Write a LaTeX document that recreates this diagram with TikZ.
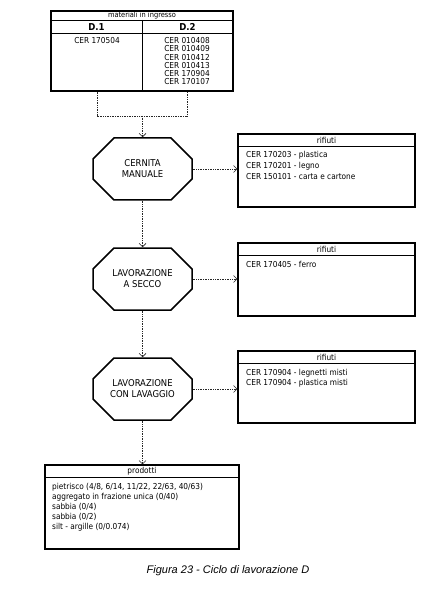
\documentclass[tikz,border=0pt]{standalone}
\usepackage{fontspec}
\setmainfont{DejaVu Sans Condensed}
\newfontfamily\capfont{Liberation Sans}
\usetikzlibrary{arrows.meta,shapes.misc}
\begin{document}
\begin{tikzpicture}[x=1pt,y=-1pt,
  small/.style={font=\fontsize{8.2}{9}\selectfont,inner sep=0pt},
  itemtxt/.style={small,anchor=west},
  box/.style={draw,line width=1.1pt,inner sep=0pt},
  sep/.style={line width=0.5pt},
  octa/.style={draw,line width=1.5pt,chamfered rectangle,chamfered rectangle xsep=12pt,chamfered rectangle ysep=12pt,
    minimum width=99pt,minimum height=62pt,inner sep=0pt,align=center,font=\fontsize{9.4}{11}\selectfont},
  conn/.style={densely dotted,line width=0.7pt,draw=black!85},
  arr/.style={conn,-{Straight Barb[length=3.5pt,width=7pt,line width=0.6pt]}}
]
\useasboundingbox (0,0) rectangle (432,601);

% input table
\node[box,minimum width=182pt,minimum height=80pt] (tab) at (142,51) {};
\draw[sep] (51,20) -- (233,20);
\draw[sep] (51,33) -- (233,33);
\draw[sep] (142,20) -- (142,91);
\node[font=\fontsize{7.4}{8}\selectfont,inner sep=0pt] (tabt) at (142,15.6) {materiali in ingresso};
\node[font=\bfseries\fontsize{9.5}{10}\selectfont,inner sep=0pt] (d1) at (96.5,26.8) {D.1};
\node[font=\bfseries\fontsize{9.5}{10}\selectfont,inner sep=0pt] (d2) at (187.5,26.8) {D.2};
\node[small] (c1) at (97,40.5) {CER 170504};
\node[small] (c21) at (187,40.5) {CER 010408};
\node[small] (c22) at (187,48.8) {CER 010409};
\node[small] (c23) at (187,57.1) {CER 010412};
\node[small] (c24) at (187,65.4) {CER 010413};
\node[small] (c25) at (187,73.7) {CER 170904};
\node[small] (c26) at (187,82) {CER 170107};

% joining connectors
\coordinate (j1) at (97,116);
\coordinate (j2) at (187,116);
\coordinate (jm) at (142.5,116);
\draw[conn] (tab.south -| j1) -- (j1) -- (j2) -- (tab.south -| j2);

% octagons
\node[octa] (o1) at (142.5,169) {CERNITA\\MANUALE};
\node[octa] (o2) at (142.5,279) {LAVORAZIONE\\A SECCO};
\node[octa] (o3) at (142.5,389) {LAVORAZIONE\\CON LAVAGGIO};

\draw[arr] (jm) -- (o1.north);
\draw[arr] (o1.south) -- (o2.north);
\draw[arr] (o2.south) -- (o3.north);

% rifiuti boxes
\node[box,minimum width=177pt,minimum height=73pt] (r1) at (326.5,170.5) {};
\draw[sep] (238,146) -- (415,146);
\node[small] (r1t) at (326.5,140.5) {rifiuti};
\node[itemtxt] (r1a) at (246,155.5) {CER 170203 - plastica};
\node[itemtxt] (r1b) at (246,166) {CER 170201 - legno};
\node[itemtxt] (r1c) at (246,176.5) {CER 150101 - carta e cartone};

\node[box,minimum width=177pt,minimum height=73pt] (r2) at (326.5,279.5) {};
\draw[sep] (238,255) -- (415,255);
\node[small] (r2t) at (326.5,249.5) {rifiuti};
\node[itemtxt] (r2a) at (246,264.5) {CER 170405 - ferro};

\node[box,minimum width=177pt,minimum height=72pt] (r3) at (326.5,387) {};
\draw[sep] (238,363) -- (415,363);
\node[small] (r3t) at (326.5,357.5) {rifiuti};
\node[itemtxt] (r3a) at (246,373) {CER 170904 - legnetti misti};
\node[itemtxt] (r3b) at (246,383.5) {CER 170904 - plastica misti};

\draw[arr] (o1.east) -- (o1.east -| r1.west);
\draw[arr] (o2.east) -- (o2.east -| r2.west);
\draw[arr] (o3.east) -- (o3.east -| r3.west);

% prodotti
\node[box,minimum width=194pt,minimum height=84pt] (p) at (142,507) {};
\draw[sep] (45,477) -- (239,477);
\node[small] (pt) at (142,471.5) {prodotti};
\node[itemtxt] (p1) at (52,487) {pietrisco (4/8, 6/14, 11/22, 22/63, 40/63)};
\node[itemtxt] (p2) at (52,497) {aggregato in frazione unica (0/40)};
\node[itemtxt] (p3) at (52,507) {sabbia (0/4)};
\node[itemtxt] (p4) at (52,517) {sabbia (0/2)};
\node[itemtxt] (p5) at (52,527) {silt - argille (0/0.074)};

\draw[arr] (o3.south) -- (p.north -| o3.south);

% caption
\node[font=\capfont\itshape\fontsize{11}{12}\selectfont,inner sep=0pt] (cap) at (228,571) {Figura 23 - Ciclo di lavorazione D};
\end{tikzpicture}
\end{document}
